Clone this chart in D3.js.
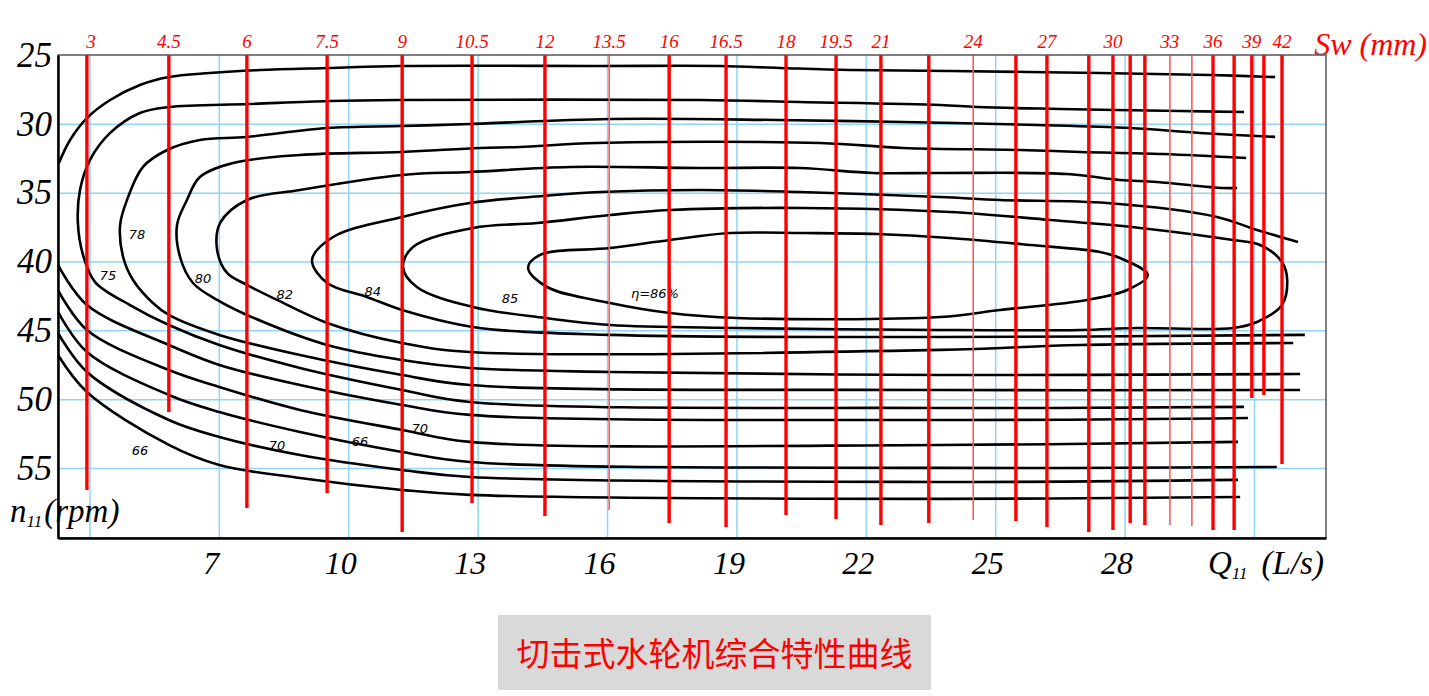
<!DOCTYPE html>
<html><head><meta charset="utf-8">
<script src="https://cdn.jsdelivr.net/npm/d3@7"></script>
<style>body{margin:0;background:#fff;} svg{display:block;}</style>
</head><body><svg id="chart" width="1429" height="696"></svg>
<script>
// ---------------- data ----------------
const xTicks = [7, 10, 13, 16, 19, 22, 25, 28];
const xGrid = [4, 7, 10, 13, 16, 19, 22, 25, 28, 31];
const yTicks = [25, 30, 35, 40, 45, 50, 55];
const yGrid = [30, 35, 40, 45, 50, 55];

// needle openings Sw: position on Q11 axis and lower end (n11)
const needleQ = [3.94,5.84,7.65,9.51,11.25,12.87,14.56,16.05,17.44,18.76,20.15,21.31,22.35,23.46,24.49,25.48,26.20,27.17,27.73,28.13,28.47,29.05,29.56,30.05,30.54,30.95,31.23,31.65];
const needleEnd = [56.59,50.93,57.90,56.81,59.64,57.53,58.48,58.04,58.99,59.28,58.41,58.70,59.13,58.99,58.77,58.84,59.28,59.64,59.50,58.99,59.13,59.13,59.20,59.50,59.50,49.91,49.69,54.70];
const needleThin = [7, 14, 21, 22];
const swLabels = ["3","4.5","6","7.5","9","10.5","12","13.5","16","16.5","18","19.5","21","24","27","30","33","36","39","42"];
const swLabelLine = [0,1,2,3,4,5,6,7,8,9,10,11,12,14,16,18,21,23,25,27];

// efficiency contours [Q11, n11]
const contourTop = [[3.29,32.84],[3.55,31.17],[3.94,29.58],[4.48,28.27],[5.17,27.18],[5.84,26.60],[6.79,26.31],[7.95,26.09],[9.58,25.94],[11.20,25.80],[15.84,25.80],[18.62,25.80],[20.00,25.94],[21.63,26.09],[23.95,26.16],[27.43,26.31],[29.98,26.45],[31.49,26.60]];
const contour75 = [[30.77,29.14],[29.28,29.07],[26.50,28.92],[24.58,28.78],[23.72,28.63],[20.47,28.41],[18.16,28.27],[11.20,28.27],[9.58,28.34],[7.72,28.56],[5.84,28.78],[5.17,29.21],[4.48,30.66],[4.01,32.63],[3.78,34.80],[3.73,37.13],[3.85,39.52],[4.13,41.49],[4.94,43.16],[5.84,44.61],[7.01,46.06],[8.88,47.73],[11.25,49.33],[12.82,50.20],[23.72,50.64],[30.77,50.56]];
const contour78 = [[31.49,30.95],[29.75,30.66],[28.13,30.30],[25.97,30.08],[22.86,29.87],[19.94,29.72],[16.07,29.65],[12.82,30.01],[11.25,30.16],[9.51,30.30],[7.65,30.95],[6.56,31.17],[5.80,31.90],[5.24,33.13],[4.87,35.53],[4.71,37.35],[4.78,39.67],[5.01,41.34],[5.47,43.01],[5.84,43.88],[7.01,45.33],[8.88,46.79],[11.25,48.24],[12.82,48.97],[23.72,49.33],[32.07,49.33]];
const contour80 = [[30.82,32.48],[28.89,32.19],[26.97,32.04],[25.57,31.90],[22.86,31.75],[20.94,31.39],[15.77,31.39],[13.98,31.68],[13.05,31.75],[11.25,32.04],[8.88,32.26],[7.33,32.84],[6.56,33.86],[6.26,35.53],[6.03,37.35],[6.10,39.67],[6.40,41.56],[6.96,42.79],[7.65,43.88],[9.51,46.06],[11.25,47.15],[12.82,47.73],[16.07,48.02],[23.72,48.24],[32.07,48.17]];
const contour82 = [[30.61,34.66],[30.28,34.66],[28.75,34.22],[27.89,34.08],[26.66,33.64],[23.72,33.57],[22.17,33.57],[20.47,33.21],[18.16,33.21],[15.14,33.13],[12.82,33.50],[11.25,33.71],[8.88,34.80],[7.65,35.53],[7.03,37.20],[6.96,39.16],[7.19,40.83],[7.65,41.70],[8.35,42.79],[9.51,44.46],[11.25,45.92],[12.82,46.57],[23.72,46.42],[26.97,46.06],[31.91,45.92]];
const contour84 = [[32.02,38.58],[31.07,37.71],[30.14,36.76],[27.59,35.75],[25.11,35.53],[23.72,35.31],[20.47,34.95],[18.16,34.80],[15.84,34.95],[14.52,35.24],[12.82,35.75],[11.25,36.76],[9.65,38.22],[9.16,39.89],[9.51,41.56],[10.43,42.57],[11.25,43.52],[12.89,44.75],[16.07,45.33],[23.72,45.48],[32.18,45.33]];
const loop85 = [[11.27,40.40],[11.50,38.94],[12.89,37.56],[14.38,37.20],[16.07,36.62],[17.46,36.26],[20.54,36.11],[23.95,36.40],[26.27,36.98],[28.36,37.56],[30.51,38.44],[31.14,38.80],[31.65,40.03],[31.77,41.34],[31.65,43.16],[31.07,44.39],[30.51,44.83],[28.29,44.83],[26.97,44.97],[23.72,44.97],[19.01,44.83],[16.07,44.61],[14.56,44.10],[12.89,43.30],[11.59,41.85]];
const loop86 = [[14.17,40.47],[14.45,39.52],[16.07,39.02],[17.46,38.44],[18.85,37.93],[20.54,37.93],[22.26,38.00],[23.95,38.29],[25.81,38.80],[27.43,39.31],[27.89,39.74],[28.54,40.98],[28.06,42.07],[27.13,42.79],[25.11,43.52],[23.72,44.03],[19.01,44.10],[17.46,43.74],[16.07,43.01],[14.61,41.85]];
const lowerEdge1 = [[3.27,40.25],[3.94,43.16],[5.84,46.06],[7.01,47.51],[8.88,48.97],[11.25,50.42],[12.82,51.14],[23.72,51.51],[30.86,51.36]];
const lowerEdge2 = [[3.27,42.07],[3.94,44.97],[5.84,47.88],[7.01,49.11],[8.88,50.78],[11.25,52.23],[12.82,53.10],[23.72,53.32],[30.63,53.10]];
const lowerEdge3 = [[3.27,43.66],[3.94,46.57],[5.84,49.69],[7.01,50.93],[8.88,52.38],[11.25,53.83],[12.82,54.56],[23.72,54.99],[31.53,54.92]];
const lowerEdge4 = [[3.27,45.19],[3.94,48.02],[5.84,51.51],[7.01,52.74],[8.88,54.05],[11.25,55.14],[12.82,55.65],[23.72,56.01],[30.63,55.86]];
const lowerEdge5 = [[3.27,46.79],[3.94,49.47],[5.84,53.32],[7.01,54.78],[8.88,55.72],[11.25,56.59],[12.82,56.95],[23.72,57.24],[30.68,57.10]];

const contourLabels = ["75","78","80","82","84","85","η=86%","66","70","66","70"];
const contourLabelQ = [4.43,5.10,6.63,8.53,10.57,13.75,17.11,5.17,8.35,10.27,11.66];
const contourLabelN = [41.12,38.14,41.34,42.50,42.28,42.79,42.43,53.83,53.47,53.18,52.23];

const chartTitle = "切击式水轮机综合特性曲线";

// ---------------- drawing ----------------
const svg = d3.select("#chart");
const x = d3.scaleLinear().domain([3.27, 32.67]).range([58, 1326]);
const y = d3.scaleLinear().domain([25, 60.08]).range([55, 538]);
const serif = "'Liberation Serif','DejaVu Serif',serif";

// grid
const gridColor = "#8fd6f4";
svg.append("g").attr("transform", "translate(0,538)")
  .call(d3.axisBottom(x).tickValues(xGrid).tickSize(-483).tickFormat(""))
  .call(g => g.select(".domain").remove())
  .selectAll("line").attr("stroke", gridColor).attr("stroke-width", 1.5);
svg.append("g").attr("transform", "translate(58,0)")
  .call(d3.axisLeft(y).tickValues(yGrid).tickSize(-1268).tickFormat(""))
  .call(g => g.select(".domain").remove())
  .selectAll("line").attr("stroke", gridColor).attr("stroke-width", 1.5);

// contours
const open = [contourTop, contour75, contour78, contour80, contour82, contour84,
  lowerEdge1, lowerEdge2, lowerEdge3, lowerEdge4, lowerEdge5];
const lineOpen = d3.line().x(d => x(d[0])).y(d => y(d[1])).curve(d3.curveCatmullRom.alpha(0.5));
const lineClosed = d3.line().x(d => x(d[0])).y(d => y(d[1])).curve(d3.curveCatmullRomClosed.alpha(0.5));
const cg = svg.append("g").attr("fill", "none").attr("stroke", "#000").attr("stroke-width", 2.6);
open.forEach(c => cg.append("path").attr("d", lineOpen(c)));
[loop85, loop86].forEach(c => cg.append("path").attr("d", lineClosed(c)));

// contour labels
svg.append("g").selectAll("text").data(contourLabels).join("text")
  .attr("x", (d, i) => x(contourLabelQ[i])).attr("y", (d, i) => y(contourLabelN[i]))
  .attr("text-anchor", "middle").attr("dominant-baseline", "middle")
  .attr("font-family", "'DejaVu Sans','Liberation Sans',sans-serif").attr("font-style", "italic")
  .attr("font-size", 13).attr("fill", "#000").text(d => d);

// needle lines
svg.append("g").selectAll("line").data(needleQ).join("line")
  .attr("x1", d => x(d)).attr("x2", d => x(d))
  .attr("y1", y(25)).attr("y2", (d, i) => y(needleEnd[i]))
  .attr("stroke", (d, i) => needleThin.includes(i) ? "#ff5a5a" : "#ff0000")
  .attr("stroke-width", (d, i) => needleThin.includes(i) ? 1.6 : 3.4);

// Sw labels
svg.append("g").selectAll("text").data(swLabels).join("text")
  .attr("x", (d, i) => x(needleQ[swLabelLine[i]]) + (i === 0 ? 4 : 0)).attr("y", 48)
  .attr("text-anchor", "middle").attr("font-family", serif).attr("font-style", "italic")
  .attr("font-size", 19).attr("fill", "#ff0000").text(d => d);
svg.append("text").attr("x", 1427).attr("y", 55).attr("text-anchor", "end")
  .attr("font-family", serif).attr("font-style", "italic").attr("font-size", 32)
  .attr("fill", "#ff0000").text("Sw (mm)");

// frame
svg.append("rect").attr("x", 58).attr("y", 55).attr("width", 1268).attr("height", 483)
  .attr("fill", "none").attr("stroke", "#555").attr("stroke-width", 1.5);

// axes
const xAxis = svg.append("g").attr("transform", "translate(0,538)")
  .call(d3.axisBottom(x).tickValues(xTicks).tickSize(0).tickPadding(13));
xAxis.select(".domain").attr("stroke", "#000").attr("stroke-width", 2.5);
xAxis.selectAll("text").attr("font-family", serif).attr("font-style", "italic")
  .attr("font-size", 32).attr("fill", "#000").attr("dx", -8);
const yAxis = svg.append("g").attr("transform", "translate(58,0)")
  .call(d3.axisLeft(y).tickValues(yTicks).tickSize(0).tickPadding(6));
yAxis.select(".domain").attr("stroke", "#000").attr("stroke-width", 2.5);
yAxis.selectAll("text").attr("font-family", serif).attr("font-style", "italic")
  .attr("font-size", 35).attr("fill", "#000");

// axis titles
const nt = svg.append("text").attr("x", 10).attr("y", 522).attr("font-family", serif)
  .attr("font-style", "italic").attr("font-size", 33).attr("fill", "#000");
nt.append("tspan").text("n");
nt.append("tspan").attr("font-size", 17).attr("dy", 5).text("11");
nt.append("tspan").attr("dy", -5).attr("dx", 2).text("(rpm)");
const qt = svg.append("text").attr("x", 1208).attr("y", 574).attr("font-family", serif)
  .attr("font-style", "italic").attr("font-size", 33).attr("fill", "#000");
qt.append("tspan").text("Q");
qt.append("tspan").attr("font-size", 17).attr("dy", 5).text("11");
qt.append("tspan").attr("dy", -5).attr("dx", 14).text("(L/s)");

// title box
svg.append("rect").attr("x", 498).attr("y", 615).attr("width", 433).attr("height", 75).attr("fill", "#d9d9d9");
svg.append("text").attr("x", 714.5).attr("y", 657).attr("text-anchor", "middle")
  .attr("dominant-baseline", "middle").attr("font-family", "'Noto Sans CJK SC',sans-serif")
  .attr("font-size", 33).attr("fill", "#ff0000").text(chartTitle);
</script></body></html>
